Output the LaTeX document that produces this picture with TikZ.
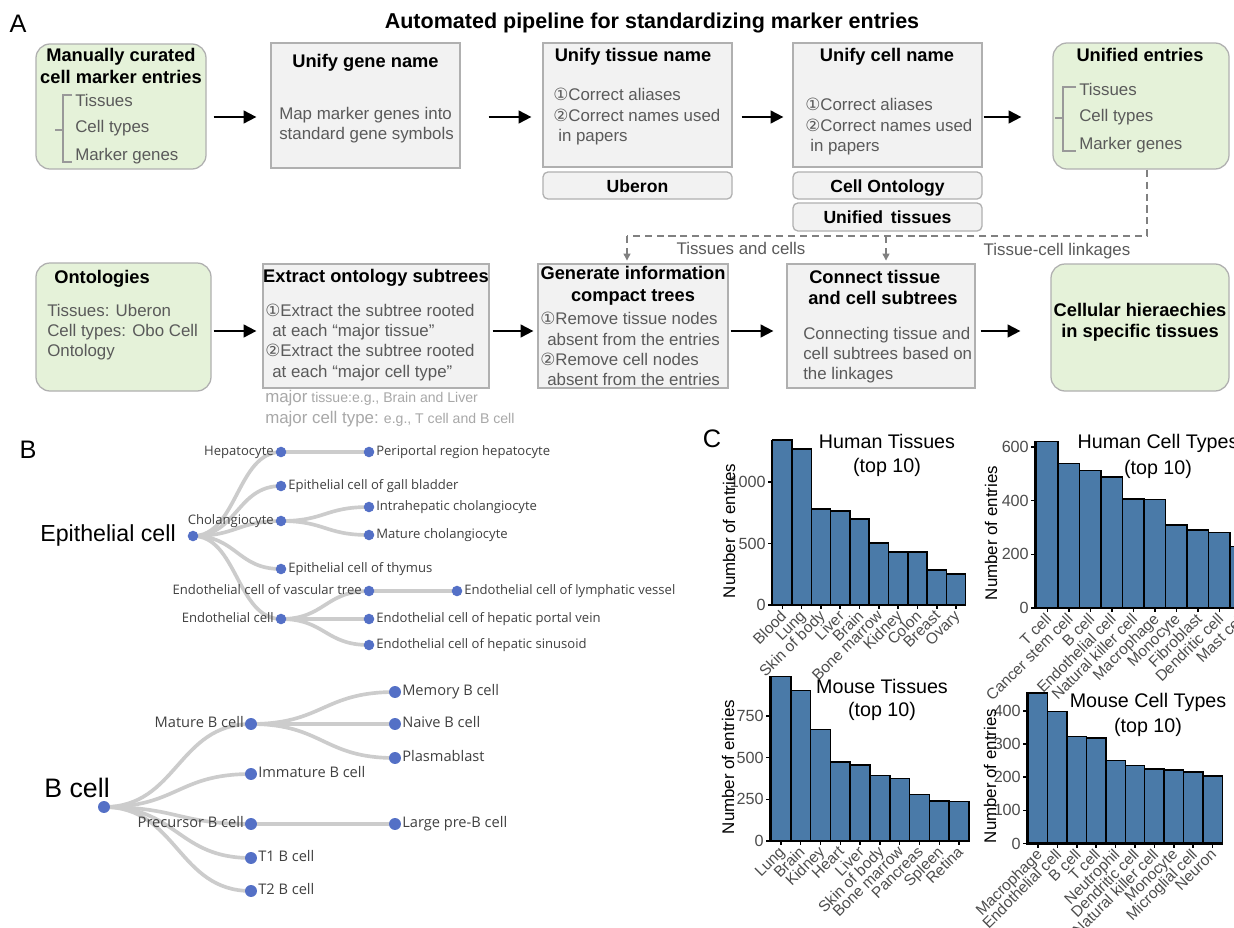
\documentclass[tikz,border=0pt]{standalone}
\usepackage{fontspec}
\setmainfont{Liberation Sans}
\newfontfamily\symf{DejaVu Sans}
\newfontfamily\treef{Open Sans}
\usetikzlibrary{arrows.meta,calc,fit,backgrounds}
\definecolor{gfill}{HTML}{E5F2D9}
\definecolor{boxfill}{HTML}{F2F2F2}
\definecolor{boxline}{HTML}{B0B0B0}
\definecolor{bodygray}{HTML}{5A5A5A}
\definecolor{notegray}{HTML}{A8A8A8}
\definecolor{dotblue}{HTML}{5470C6}
\definecolor{linkgray}{HTML}{CCCCCC}
\definecolor{barblue}{HTML}{4A7AA8}
\definecolor{axgray}{HTML}{4D4D4D}
\definecolor{treetext}{HTML}{404040}
\newcommand{\cone}{{\symf ①}}
\newcommand{\ctwo}{{\symf ②}}
\newcommand{\tlink}[2]{\draw[link] let \p1=(#1), \p2=(#2) in (\p1) .. controls ({0.5*\x1+0.5*\x2},\y1) and ({0.5*\x1+0.5*\x2},\y2) .. (\p2);}
\newcommand{\lleft}[3]{\node[#3, anchor=mid east] (#1l) at ($(#1)+(-7,0)$) {#2};}
\newcommand{\lright}[3]{\node[#3, anchor=mid west] (#1l) at ($(#1)+(7,0)$) {#2};}
\newcommand{\bars}[6]{%
  \foreach \v/\lab [count=\i from 0] in {#6} {
    \draw[bar] ({#2+\i*#4},#3) rectangle ({#2+(\i+1)*#4},{#3-\v*#5});
    \draw[tick] ({#2+(\i+0.5)*#4},#3) -- ++(0,4);
    \node[xlab] (#1x\i) at ({#2+(\i+0.5)*#4-3},{#3+4}) {\lab};
  }}
\begin{document}
\begin{tikzpicture}[x=0.025cm, y=-0.025cm,
  gbox/.style={draw=boxline, fill=gfill, rounded corners=10pt, line width=0.9pt, inner sep=0pt},
  sbox/.style={draw=boxline, fill=boxfill, line width=0.9pt, inner sep=0pt},
  tbox/.style={sbox, rounded corners=3.5pt},
  hdr/.style={font=\fontsize{13}{15}\selectfont\bfseries, inner sep=0pt, anchor=mid, yshift=-2pt},
  body/.style={font=\fontsize{12}{14}\selectfont, text=bodygray, inner sep=0pt, anchor=mid west, yshift=-2pt},
  note/.style={font=\fontsize{10}{12}\selectfont, text=notegray, inner sep=0pt, anchor=mid west, yshift=-1pt},
  panel/.style={font=\fontsize{18}{20}\selectfont, inner sep=0pt},
  arr/.style={line width=1.4pt, -{Triangle[length=9pt,width=9pt]}},
  dline/.style={draw=gray, line width=0.9pt, dash pattern=on 5pt off 3.5pt},
  darr/.style={dline, -{Triangle[length=5pt,width=5pt]}, shorten >=2pt},
  brk/.style={draw=gray!80, line width=1.3pt},
  link/.style={draw=linkgray, line width=2.6pt},
  edot/.style={circle, fill=dotblue, inner sep=0pt, minimum size=7.5pt},
  bdot/.style={edot, minimum size=8.5pt},
  elab/.style={font=\treef\fontsize{9.3}{11}\selectfont, text=treetext, inner sep=0pt},
  blab/.style={font=\treef\fontsize{10.4}{12}\selectfont, text=treetext, inner sep=0pt},
  bar/.style={draw=black, fill=barblue, line width=1.1pt},
  tick/.style={line width=1.1pt},
  axis/.style={line width=1.5pt},
  tlab/.style={font=\fontsize{11.5}{13}\selectfont, text=axgray, anchor=east, inner sep=0pt},
  xlab/.style={font=\fontsize{11}{13}\selectfont, text=axgray, anchor=north east, rotate=45, inner sep=0pt},
  ylab/.style={font=\fontsize{12}{14}\selectfont, rotate=90, inner sep=0pt},
  ctitle/.style={font=\fontsize{14}{16}\selectfont, inner sep=0pt}
]
\path[use as bounding box] (0,0) rectangle (1234,927);
\clip (0,0) rectangle (1234,927);

% ================= Panel A =================
\node[panel] (pA) at (18,24) {A};
\node[font=\fontsize{15.3}{17}\selectfont\bfseries, inner sep=0pt] (title) at (652,23) {Automated pipeline for standardizing marker entries};

% row 1 boxes
\node[gbox, fit={(36,44) (206,169)}] (b1) {};
\node[sbox, fit={(271,43) (460,168)}] (b2) {};
\node[sbox, fit={(543,43) (732,167)}] (b3) {};
\node[tbox, fit={(543,172) (732,199)}] (ub) {};
\node[sbox, fit={(793,43) (982,167)}] (b4) {};
\node[tbox, fit={(793,172) (982,199)}] (co) {};
\node[tbox, fit={(793,203) (982,231)}] (ut) {};
\node[gbox, fit={(1053,43) (1229,169)}] (b5) {};

% row 2 boxes
\node[gbox, fit={(36,263) (211,391)}] (ont) {};
\node[sbox, fit={(263,264) (489,388)}] (ext) {};
\node[sbox, fit={(538,264) (728,388)}] (gen) {};
\node[sbox, fit={(787,264) (975,388)}] (con) {};
\node[gbox, fit={(1051,264) (1229,391)}] (fin) {};

% box 1 text
\node[hdr] (b1h1) at (121,55) {Manually curated};
\node[hdr] (b1h2) at (121,77) {cell marker entries};
\node[body] (b1t1) at (75,100) {Tissues};
\node[body] (b1t2) at (75,126) {Cell types};
\node[body] (b1t3) at (75,154) {Marker genes};
\draw[brk] (72,95) -- (63,95) -- (63,162) -- (72,162) (63,130) -- (55,130);

% box 2 text
\node[hdr] (b2h) at (365.5,61) {Unify gene name};
\node[body] (b2t1) at (279,113) {Map marker genes into};
\node[body] (b2t2) at (279,133) {standard gene symbols};

% box 3 text
\node[hdr] (b3h) at (633,55) {Unify tissue name};
\node[body] (b3t1) at (553,94) {\cone Correct aliases};
\node[body] (b3t2) at (553,115) {\ctwo Correct names used};
\node[body] (b3t3) at (558,135) {in papers};
\node[hdr, font=\fontsize{12.5}{14}\selectfont\bfseries, yshift=0pt] (ubt) at (ub) {Uberon};

% box 4 text
\node[hdr] (b4h) at (887,55) {Unify cell name};
\node[body] (b4t1) at (805,104) {\cone Correct aliases};
\node[body] (b4t2) at (805,125) {\ctwo Correct names used};
\node[body] (b4t3) at (810,145) {in papers};
\node[hdr, font=\fontsize{12.5}{14}\selectfont\bfseries, yshift=0pt] (cot) at (co) {Cell Ontology};
\node[hdr, font=\fontsize{12.5}{14}\selectfont\bfseries, yshift=0pt] (utt) at (ut) {Unified\ \,tissues};

% box 5 text
\node[hdr] (b5h) at (1140,55) {Unified entries};
\node[body] (b5t1) at (1079,89) {Tissues};
\node[body] (b5t2) at (1079,115) {Cell types};
\node[body] (b5t3) at (1079,143) {Marker genes};
\draw[brk] (1076,87) -- (1063,87) -- (1063,151) -- (1076,151) (1063,118) -- (1055,118);

% ontologies
\node[hdr, anchor=mid west] (onth) at (54,277) {Ontologies};
\node[body] (ontt1) at (47,310) {Tissues: Uberon};
\node[body] (ontt2) at (47,330) {Cell types: Obo Cell};
\node[body] (ontt3) at (47,350) {Ontology};

% extract
\node[hdr] (exth) at (376,276) {Extract ontology subtrees};
\node[body] (extt1) at (265,310) {\cone Extract the subtree rooted};
\node[body] (extt2) at (272,330) {at each “major tissue”};
\node[body] (extt3) at (265,350) {\ctwo Extract the subtree rooted};
\node[body] (extt4) at (272,371) {at each “major cell type”};
\node[note] (n1) at (265,397) {{\fontsize{12}{14}\selectfont major} tissue:e.g., Brain and Liver};
\node[note] (n2) at (265,418) {{\fontsize{12}{14}\selectfont major cell type:} e.g., T cell and B cell};

% generate
\node[hdr] (genh1) at (633,273) {Generate information};
\node[hdr] (genh2) at (633,295) {compact trees};
\node[body] (gent1) at (540,318) {\cone Remove tissue nodes};
\node[body] (gent2) at (547,339) {absent from the entries};
\node[body] (gent3) at (540,359) {\ctwo Remove cell nodes};
\node[body] (gent4) at (547,379) {absent from the entries};

% connect
\node[hdr, anchor=mid west] (conh1) at (809,277) {Connect tissue};
\node[hdr, anchor=mid west] (conh2) at (808,298) {and cell subtrees};
\node[body] (cont1) at (803,333) {Connecting tissue and};
\node[body] (cont2) at (803,353) {cell subtrees based on};
\node[body] (cont3) at (803,373) {the linkages};

% final
\node[hdr] (finh1) at (1140,310) {Cellular hieraechies};
\node[hdr] (finh2) at (1140,331) {in specific tissues};

% arrows
\coordinate (ay1) at (0,117);
\coordinate (ay2) at (0,331);
\draw[arr] ($(b1.east|-ay1)+(7,0)$) -- ($(b2.west|-ay1)+(-14,0)$);
\draw[arr] ($(b2.east|-ay1)+(28,0)$) -- ($(b3.west|-ay1)+(-11,0)$);
\draw[arr] ($(b3.east|-ay1)+(9,0)$) -- ($(b4.west|-ay1)+(-9,0)$);
\draw[arr] ($(b4.east|-ay1)+(1,0)$) -- ($(b5.west|-ay1)+(-31,0)$);
\draw[arr] ($(ont.east|-ay2)+(2,0)$) -- ($(ext.west|-ay2)+(-6,0)$);
\draw[arr] ($(ext.east|-ay2)+(3,0)$) -- ($(gen.west|-ay2)+(-4,0)$);
\draw[arr] ($(gen.east|-ay2)+(2,0)$) -- ($(con.west|-ay2)+(-13,0)$);
\draw[arr] ($(con.east|-ay2)+(5,0)$) -- ($(fin.west|-ay2)+(-30,0)$);

% dashed links
\coordinate (dh) at (0,236);
\coordinate (dstart) at ($(b5.south)+(6,0)$);
\coordinate (gtop) at ($(gen.north)+(-6,0)$);
\coordinate (ctop) at ($(con.north)+(5,0)$);
\draw[dline] (dstart) |- (gtop |- dh);
\draw[darr] (gtop |- dh) -- (gtop);
\draw[darr] (ctop |- dh) -- (ctop);
\node[body, anchor=mid] (dl1) at (741,248) {Tissues and cells};
\node[body, anchor=mid] (dl2) at (1057,249) {Tissue-cell linkages};

% ================= Panel B =================
\node[panel] (pB) at (28,450) {B};

% Epithelial tree
\node[edot] (e0) at (193,536) {};
\node[edot] (e1) at (281,452) {};
\node[edot] (e2) at (281,486) {};
\node[edot] (e3) at (281,521) {};
\node[edot] (e4) at (281,569) {};
\node[edot] (e5) at (281,619) {};
\node[edot] (e11) at (369,452) {};
\node[edot] (e31) at (369,507) {};
\node[edot] (e32) at (369,535) {};
\node[edot] (e51) at (369,591) {};
\node[edot] (e52) at (369,619) {};
\node[edot] (e53) at (369,645) {};
\node[edot] (e511) at (457,591) {};
\node[font=\fontsize{16.5}{18}\selectfont, inner sep=0pt, anchor=mid east] (e0l) at (176,538) {Epithelial cell};
\lleft{e1}{Hepatocyte}{elab}
\lright{e2}{Epithelial cell of gall bladder}{elab}
\lleft{e3}{Cholangiocyte}{elab}
\lright{e4}{Epithelial cell of thymus}{elab}
\lleft{e5}{Endothelial cell}{elab}
\lright{e11}{Periportal region hepatocyte}{elab}
\lright{e31}{Intrahepatic cholangiocyte}{elab}
\lright{e32}{Mature cholangiocyte}{elab}
\lleft{e51}{Endothelial cell of vascular tree}{elab}
\lright{e52}{Endothelial cell of hepatic portal vein}{elab}
\lright{e53}{Endothelial cell of hepatic sinusoid}{elab}
\lright{e511}{Endothelial cell of lymphatic vessel}{elab}

% B cell tree
\node[bdot] (r0) at (104,807) {};
\node[bdot] (m) at (251,724) {};
\node[bdot] (im) at (251,774) {};
\node[bdot] (pr) at (251,824) {};
\node[bdot] (ta) at (251,858) {};
\node[bdot] (tb) at (251,891) {};
\node[bdot] (mm) at (395,692) {};
\node[bdot] (mn) at (395,724) {};
\node[bdot] (mp) at (395,758) {};
\node[bdot] (pl) at (395,824) {};
\node[font=\fontsize{19}{21}\selectfont, inner sep=0pt, anchor=mid east] (r0l) at (110,794) {B cell};
\lleft{m}{Mature B cell}{blab}
\lright{im}{Immature B cell}{blab}
\lleft{pr}{Precursor B cell}{blab}
\lright{ta}{T1 B cell}{blab}
\lright{tb}{T2 B cell}{blab}
\lright{mm}{Memory B cell}{blab}
\lright{mn}{Naive B cell}{blab}
\lright{mp}{Plasmablast}{blab}
\lright{pl}{Large pre-B cell}{blab}

\begin{scope}[on background layer]
  \fill[white] (0,0) rectangle (1234,927);
  \tlink{e0}{e1} \tlink{e0}{e2} \tlink{e0}{e3} \tlink{e0}{e4} \tlink{e0}{e5}
  \tlink{e1}{e11} \tlink{e3}{e31} \tlink{e3}{e32}
  \tlink{e5}{e51} \tlink{e5}{e52} \tlink{e5}{e53} \tlink{e51}{e511}
  \tlink{r0}{m} \tlink{r0}{im} \tlink{r0}{pr} \tlink{r0}{ta} \tlink{r0}{tb}
  \tlink{m}{mm} \tlink{m}{mn} \tlink{m}{mp} \tlink{pr}{pl}
\end{scope}

% ================= Panel C =================
\node[panel] (pC) at (712,439) {C};

% Human tissues
\bars{ht}{772.7}{605}{19.3}{0.123}{1341/Blood,1268/Lung,780/Skin of body,764/Liver,699/Brain,504/Bone marrow,431/Kidney,431/Colon,285/Breast,252/Ovary}
\draw[axis] (772,440) -- (772,605) -- (966,605);
\foreach \t in {0,500,1000} {
  \draw[tick] (772,{605-\t*0.123}) -- ++(-4,0);
  \node[tlab] (ht-y\t) at (766,{605-\t*0.123}) {\t};
}
\node[ylab] (ht-yl) at (729,531) {Number of entries};
\node[ctitle] (ht-t1) at (887,441) {Human Tissues};
\node[ctitle] (ht-t2) at (887,467) {(top 10)};

% Human cell types
\bars{hc}{1036.7}{608}{21.5}{0.2683}{620/T cell,539/Cancer stem cell,512/B cell,488/Endothelial cell,406/Natural killer cell,404/Macrophage,310/Monocyte,290/Fibroblast,281/Dendritic cell,230/Mast cell}
\draw[axis] (1035,441) -- (1035,608) -- (1245,608);
\foreach \t in {0,200,400,600} {
  \draw[tick] (1035,{608-\t*0.2683}) -- ++(-4,0);
  \node[tlab] (hc-y\t) at (1029,{608-\t*0.2683}) {\t};
}
\node[ylab] (hc-yl) at (991,533) {Number of entries};
\node[ctitle] (hc-t1) at (1158,443) {Human Cell Types};
\node[ctitle] (hc-t2) at (1158,469) {(top 10)};

% Mouse tissues
\bars{mt}{771}{841}{19.8}{0.1667}{988/Lung,904/Brain,670/Kidney,475/Heart,456/Liver,392/Skin of body,376/Bone marrow,280/Pancreas,240/Spleen,236/Retina}
\draw[axis] (770,676) -- (770,841) -- (970,841);
\foreach \t in {0,250,500,750} {
  \draw[tick] (770,{841-\t*0.1667}) -- ++(-4,0);
  \node[tlab] (mt-y\t) at (764,{841-\t*0.1667}) {\t};
}
\node[ylab] (mt-yl) at (728,767) {Number of entries};
\node[ctitle] (mt-t1) at (882,686) {Mouse Tissues};
\node[ctitle] (mt-t2) at (882,711) {(top 10)};

% Mouse cell types
\bars{mc}{1028.3}{843.5}{19.4}{0.3315}{454/Macrophage,398/Endothelial cell,323/B cell,318/T cell,250/Neutrophil,235/Dendritic cell,225/Natural killer cell,221/Monocyte,216/Microglial cell,204/Neuron}
\draw[axis] (1027,692) -- (1027,843.5) -- (1223,843.5);
\foreach \t in {0,100,200,300,400} {
  \draw[tick] (1027,{843.5-\t*0.3315}) -- ++(-4,0);
  \node[tlab] (mc-y\t) at (1021,{843.5-\t*0.3315}) {\t};
}
\node[ylab] (mc-yl) at (990,776) {Number of entries};
\node[ctitle] (mc-t1) at (1148,702) {Mouse Cell Types};
\node[ctitle] (mc-t2) at (1148,727) {(top 10)};

\end{tikzpicture}
\end{document}
